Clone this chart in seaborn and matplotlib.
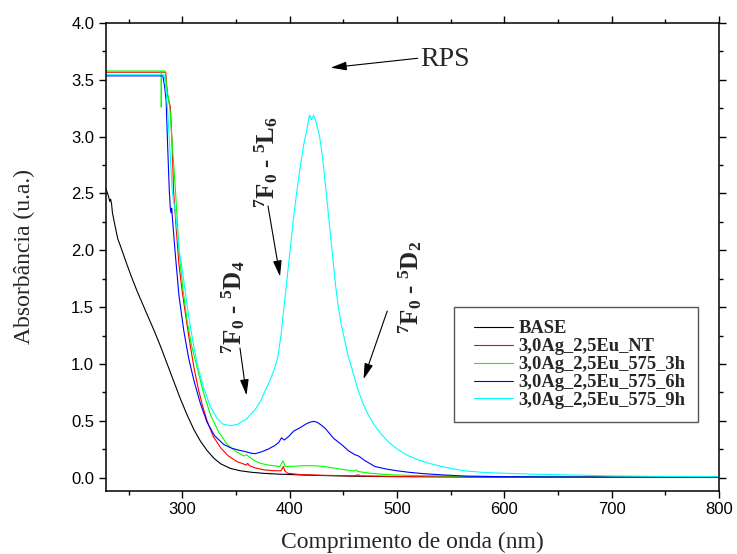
import matplotlib
matplotlib.use("Agg")
import matplotlib.pyplot as plt
from matplotlib.ticker import MultipleLocator, FormatStrFormatter
from matplotlib.legend_handler import HandlerLine2D
import pandas as pd
import seaborn as sns

# --- absorption spectra (wavelength in nm, absorbance in a.u.) ---
wl_base = [229, 230.5, 231.5, 232.5, 233.3, 234.2, 235, 236.5, 238, 240, 242, 245, 248.7, 253,
           258, 263, 268, 274, 280, 286, 292, 298, 304.6, 311, 317, 323, 329.5, 336, 345, 354,
           364, 376, 390, 420, 460, 500, 600, 700, 800]
abs_base = [2.54, 2.50, 2.47, 2.43, 2.45, 2.41, 2.33, 2.26, 2.19, 2.10, 2.05, 1.97, 1.87, 1.76,
            1.64, 1.53, 1.42, 1.29, 1.15, 1.00, 0.85, 0.70, 0.55, 0.42, 0.32, 0.24, 0.17, 0.12, 0.08, 0.06,
            0.047, 0.037, 0.03, 0.02, 0.012, 0.008, 0.004, 0.003, 0.002]

wl_nt = [229, 284.7, 285.5, 286.5, 289, 290.5, 292, 294.5, 296.9, 300, 303, 307, 311, 315, 319,
         323.5, 329, 336, 343, 351, 357, 359.5, 361, 362.5, 368, 376, 385, 392, 394.2, 395.5,
         398, 410, 430, 460, 464, 466, 500, 600, 700, 800]
abs_nt = [3.567, 3.567, 3.45, 3.36, 3.26, 2.95, 2.52, 2.18, 1.88, 1.64, 1.44, 1.19, 0.965, 0.78, 0.63,
          0.49, 0.36, 0.26, 0.19, 0.14, 0.12, 0.11, 0.125, 0.105, 0.085, 0.068, 0.06, 0.06, 0.097, 0.06,
          0.038, 0.026, 0.02, 0.015, 0.024, 0.014, 0.01, 0.006, 0.005, 0.004]

wl_3h = [229, 280.3, 280.5, 280.8, 284, 286, 288.5, 291, 293.7, 297, 300.5, 304.6, 309, 314, 320,
         326.4, 334, 342, 350, 357.4, 360, 362, 367, 373, 380, 391, 393.8, 396, 405, 415, 425, 433,
         442, 452, 460, 462, 464, 475, 485, 495, 516, 560, 600, 700, 800]
abs_3h = [3.578, 3.578, 3.26, 3.578, 3.578, 3.40, 3.25, 2.90, 2.53, 2.00, 1.67, 1.38, 1.15, 0.965, 0.74,
          0.55, 0.40, 0.29, 0.23, 0.19, 0.20, 0.185, 0.15, 0.125, 0.11, 0.097, 0.147, 0.097, 0.10, 0.105,
          0.103, 0.097, 0.082, 0.068, 0.058, 0.066, 0.053, 0.038, 0.03, 0.024, 0.018, 0.012, 0.008,
          0.005, 0.003]

wl_6h = [229, 282, 283.5, 285, 286.5, 288, 289, 289.6, 290.2, 292, 293.8, 297, 301.5, 306, 311, 317,
         323, 330, 338.8, 345.6, 351, 358, 364, 368, 373.5, 380, 386, 390, 392.5, 395, 399, 404, 410,
         416, 420, 423, 426, 429, 433, 437, 441, 448.5, 455, 461, 463, 465, 470, 479.6, 490, 500,
         510.6, 525, 541.6, 565, 600, 700, 800]
abs_6h = [3.535, 3.535, 3.45, 3.32, 2.90, 2.52, 2.36, 2.33, 2.37, 2.15, 1.94, 1.60, 1.29, 1.05, 0.85, 0.65,
          0.49, 0.37, 0.29, 0.26, 0.245, 0.23, 0.215, 0.21, 0.225, 0.25, 0.28, 0.31, 0.35, 0.33, 0.36, 0.41,
          0.44, 0.475, 0.49, 0.494, 0.485, 0.465, 0.435, 0.39, 0.345, 0.29, 0.235, 0.2, 0.195, 0.185, 0.15,
          0.097, 0.075, 0.06, 0.047, 0.034, 0.024, 0.012, 0.008, 0.004, 0.002]

wl_9h = [229, 283, 284.5, 286, 288.5, 290.7, 293.8, 297, 301.5, 306, 311, 315, 320, 326, 332.5, 338,
         345, 352, 357, 360.5, 363, 368, 373, 377, 382, 386, 389, 392, 395.7, 398, 400.5, 403.5, 406.5,
         409.7, 413, 416, 418.5, 420.5, 422.5, 425, 428, 431, 433, 435.5, 437.7, 440.8, 443, 445.4,
         448.5, 451.6, 454.5, 457.9, 461, 464.1, 468.5, 473.4, 479, 485.8, 493, 501.2, 510, 520, 530,
         541.6, 552, 563.4, 582, 600, 625, 650, 700, 750, 800]
abs_9h = [3.545, 3.545, 3.45, 3.29, 2.90, 2.52, 2.32, 2.02, 1.73, 1.42, 1.14, 0.96, 0.79, 0.63, 0.52, 0.47,
          0.456, 0.47, 0.50, 0.52, 0.55, 0.60, 0.67, 0.76, 0.86, 0.96, 1.06, 1.25, 1.58, 1.78, 2.00, 2.27, 2.50,
          2.72, 2.92, 3.06, 3.19, 3.15, 3.19, 3.12, 3.00, 2.80, 2.61, 2.38, 2.17, 1.88, 1.68, 1.50,
          1.33, 1.20, 1.07, 0.965, 0.86, 0.76, 0.65, 0.55, 0.46, 0.377, 0.305, 0.245, 0.195, 0.156, 0.125,
          0.097, 0.077, 0.059, 0.044, 0.038, 0.03, 0.025, 0.015, 0.01, 0.008]

labels = ["BASE", "3,0Ag_2,5Eu_NT", "3,0Ag_2,5Eu_575_3h",
          "3,0Ag_2,5Eu_575_6h", "3,0Ag_2,5Eu_575_9h"]
colors = ["black", "#ff0000", "#00ff00", "#0000ff", "#00ffff"]

frames = []
for lab, wl, ab in zip(labels,
                       [wl_base, wl_nt, wl_3h, wl_6h, wl_9h],
                       [abs_base, abs_nt, abs_3h, abs_6h, abs_9h]):
    frames.append(pd.DataFrame({"wl": wl, "abs": ab, "amostra": lab}))
df = pd.concat(frames, ignore_index=True)

sns.set_theme(style="ticks")
plt.rcParams["font.family"] = ["Liberation Sans", "DejaVu Sans"]
plt.rcParams["mathtext.fontset"] = "custom"
plt.rcParams["mathtext.rm"] = "Liberation Serif:bold"
plt.rcParams["mathtext.it"] = "Liberation Serif:bold"
plt.rcParams["mathtext.bf"] = "Liberation Serif:bold"

fig = plt.figure(figsize=(7.37, 5.54), dpi=100)
ax = fig.add_axes([0.1438, 0.1144, 0.8318, 0.8440])

sns.lineplot(data=df, x="wl", y="abs", hue="amostra", hue_order=labels,
             palette=colors, estimator=None, sort=False, linewidth=0.8, ax=ax)

ax.set_xlim(229, 800)
ax.set_ylim(-0.115, 4.0)
ax.xaxis.set_major_locator(MultipleLocator(100))
ax.xaxis.set_minor_locator(MultipleLocator(50))
ax.yaxis.set_major_locator(MultipleLocator(0.5))
ax.yaxis.set_minor_locator(MultipleLocator(0.25))
ax.yaxis.set_major_formatter(FormatStrFormatter("%.1f"))
ax.tick_params(which="both", direction="out", top=True, right=True,
               labeltop=False, labelright=False, colors="black", width=1.0)
ax.tick_params(which="major", length=5, labelsize=12)
ax.tick_params(which="minor", length=3)
for sp in ax.spines.values():
    sp.set_visible(True)
    sp.set_color("black")
    sp.set_linewidth(1.1)

ax.set_xlabel("Comprimento de onda (nm)", fontfamily="Liberation Serif", fontsize=17, labelpad=10)
ax.set_ylabel("Absorbância (u.a.)", fontfamily="Liberation Serif", fontsize=17, labelpad=26)


class IndentedLine(HandlerLine2D):
    """Legend line that starts a little in from the left of its slot."""
    def get_xdata(self, legend, xdescent, ydescent, width, height, fontsize):
        x0 = -xdescent + 0.16 * width
        return [x0, -xdescent + width], [0.5 * (x0 - xdescent + width)]


handles, labs = ax.get_legend_handles_labels()
leg = ax.legend(handles, labs, loc="lower right", bbox_to_anchor=(0.966, 0.147),
                borderaxespad=0, fancybox=False, frameon=True, handlelength=2.5,
                handletextpad=0.27, labelspacing=0.05, borderpad=0.7,
                handler_map={h: IndentedLine() for h in handles},
                prop={"family": "Liberation Serif", "weight": "bold", "size": 13.3})
leg.get_frame().set_edgecolor("#555555")
leg.get_frame().set_linewidth(1.0)
leg.get_frame().set_alpha(1)

arrow = dict(arrowstyle="-|>,head_length=0.8,head_width=0.22", color="black",
             lw=0.8, mutation_scale=12, shrinkA=0, shrinkB=0)

ax.text(544.8, 3.68, "RPS", fontfamily="Liberation Serif", fontsize=20,
        ha="center", va="center")
ax.annotate("", xy=(438.3, 3.607), xytext=(519.4, 3.69), arrowprops=arrow)

ax.text(378.0, 2.78, r"$^{7}$F$_{0}$ - $^{5}$L$_{6}$", rotation=90, fontfamily="Liberation Serif",
        fontweight="bold", fontsize=18, ha="center", va="center")
ax.annotate("", xy=(391.1, 1.77), xytext=(379.9, 2.39), arrowprops=arrow)

ax.text(347.8, 1.495, r"$^{7}$F$_{0}$ - $^{5}$D$_{4}$", rotation=90, fontfamily="Liberation Serif",
        fontweight="bold", fontsize=18, ha="center", va="center")
ax.annotate("", xy=(359.9, 0.724), xytext=(353.8, 1.14), arrowprops=arrow)

ax.text(512.6, 1.673, r"$^{7}$F$_{0}$ - $^{5}$D$_{2}$", rotation=90, fontfamily="Liberation Serif",
        fontweight="bold", fontsize=18, ha="center", va="center")
ax.annotate("", xy=(468.9, 0.865), xytext=(491.0, 1.466), arrowprops=arrow)

fig.savefig("out.png", dpi=100)
